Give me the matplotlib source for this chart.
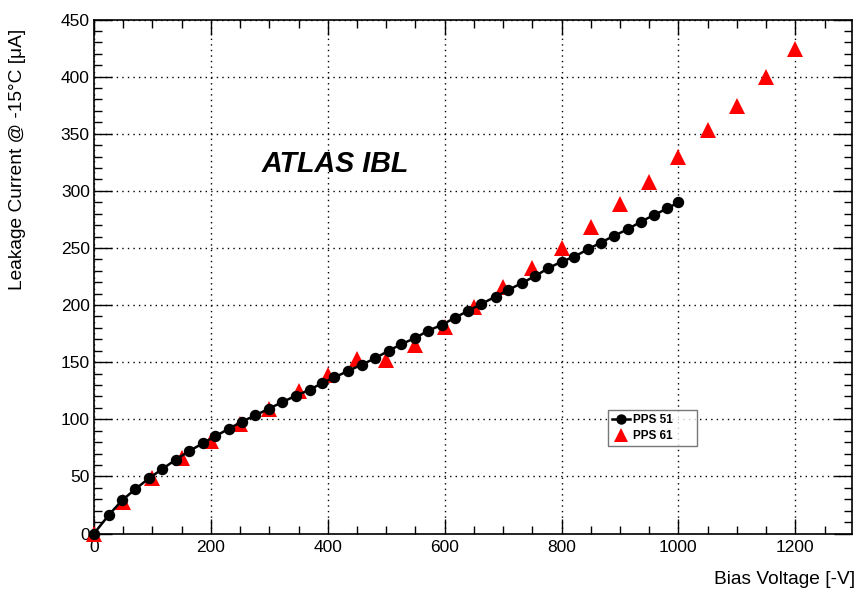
import numpy as np
import matplotlib
matplotlib.use("Agg")
import matplotlib.pyplot as plt
from matplotlib.ticker import MultipleLocator

# PPS 51 (black circles, joined)
v51 = [0, 26, 48, 71, 94, 117, 140, 162, 186, 207, 231, 253, 276, 299, 322,
       345, 369, 390, 411, 435, 458, 481, 504, 526, 549, 572, 595, 618, 640,
       663, 687, 709, 732, 755, 777, 800, 822, 845, 867, 890, 913, 936, 958,
       981, 1000]
i51 = [0, 16.6, 29, 39, 48.3, 56.5, 64.7, 71.9, 78.9, 85, 91.8, 97.9, 103.4,
       109.2, 115, 120.5, 125.8, 131.6, 136.6, 142.4, 147.7, 153.5, 159.9,
       165.8, 171, 177.6, 182.6, 189, 194.9, 201, 207.4, 213.2, 219.3, 225.4,
       232.2, 238, 242.4, 248.8, 254.6, 260.7, 266.3, 273, 278.8, 284.6, 289.9]

# PPS 61 (red triangles)
v61 = [0, 50, 100, 150, 200, 250, 300, 350, 400, 450, 500, 550, 600, 650,
       700, 750, 800, 850, 900, 950, 1000, 1050, 1100, 1150, 1200]
i61 = [0, 28, 48.6, 66, 80.6, 95.8, 109, 125, 139, 153, 151.5, 165, 181, 198,
       215.6, 232.5, 249.6, 268.6, 288.4, 307.9, 329.7, 353, 374, 399.6, 424.4]

plt.rcParams["font.family"] = ["Liberation Sans", "DejaVu Sans"]

fig = plt.figure(figsize=(8.59, 5.92), dpi=100)
ax = fig.add_axes([94 / 859, 1 - 533.5 / 592, (852 - 94) / 859, (533.5 - 19.5) / 592])

ax.plot(v61, i61, linestyle="none", marker="^", color="red", markersize=11,
        markeredgewidth=0, label="PPS 61", zorder=3, clip_on=False)
ax.plot(v51, i51, color="black", linewidth=1.8, marker="o", markersize=7.2,
        label="PPS 51", zorder=4, clip_on=False)

ax.set_xlim(0, 1297)
ax.set_ylim(0, 450)

ax.xaxis.set_major_locator(MultipleLocator(200))
ax.xaxis.set_minor_locator(MultipleLocator(50))
ax.yaxis.set_major_locator(MultipleLocator(50))
ax.yaxis.set_minor_locator(MultipleLocator(10))

ax.tick_params(which="both", direction="in", top=True, right=True,
               labelsize=12.5, colors="black", width=1)
ax.tick_params(axis="x", which="major", length=11, pad=5)
ax.tick_params(axis="x", which="minor", length=5.5)
ax.tick_params(axis="y", which="major", length=13, pad=3)
ax.tick_params(axis="y", which="minor", length=6)

ax.grid(True, which="major", color="black", linestyle=(0, (1, 3)), linewidth=1)
for s in ax.spines.values():
    s.set_linewidth(1.2)

fig.text(855 / 859, 1 - 580 / 592, "Bias Voltage [-V]", ha="right", va="center",
         fontsize=13.8)
fig.text(18 / 859, 1 - 159 / 592, "Leakage Current @ -15°C [μA]", rotation=90,
         ha="center", va="center", fontsize=13.8)

ax.text(287.5, 323.5, "ATLAS IBL", fontsize=20.6, fontweight="bold",
        fontstyle="italic", ha="left", va="center")

leg = ax.legend(handles=ax.get_lines()[::-1], loc="upper left",
                bbox_to_anchor=(608 / 859, 1 - 447 / 592, 89 / 859, 37 / 592),
                bbox_transform=fig.transFigure, borderaxespad=0, mode="expand",
                prop={"weight": "bold", "size": 8.5}, frameon=True, fancybox=False,
                edgecolor="#555555", handlelength=1.5, handletextpad=0.3,
                borderpad=0.35, labelspacing=0.35, markerscale=0.9)
leg.get_frame().set_linewidth(1)

fig.savefig("out.png", dpi=100)
